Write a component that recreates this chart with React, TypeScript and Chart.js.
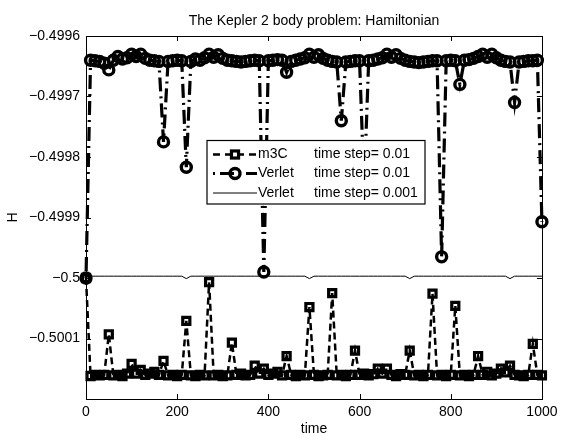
import React, { useEffect, useRef } from 'react';
import { Chart, registerables } from 'chart.js';

Chart.register(...registerables);

const chartTitle = 'The Kepler 2 body problem: Hamiltonian';
const xAxisTitle = 'time';
const yAxisTitle = 'H';

const times = [
  0, 10, 20, 30, 40, 50, 60, 70, 80, 90,
  100, 110, 120, 130, 140, 150, 160, 170, 180, 190,
  200, 210, 220, 230, 240, 250, 260, 270, 280, 290,
  300, 310, 320, 330, 340, 350, 360, 370, 380, 390,
  400, 410, 420, 430, 440, 450, 460, 470, 480, 490,
  500, 510, 520, 530, 540, 550, 560, 570, 580, 590,
  600, 610, 620, 630, 640, 650, 660, 670, 680, 690,
  700, 710, 720, 730, 740, 750, 760, 770, 780, 790,
  800, 810, 820, 830, 840, 850, 860, 870, 880, 890,
  900, 910, 920, 930, 940, 950, 960, 970, 980, 990,
  1000,
];

const m3cValues = [
  -0.5, -0.500162, -0.50016, -0.500161, -0.50016, -0.500093, -0.500161, -0.50016, -0.500162, -0.500158,
  -0.500142, -0.500158, -0.500152, -0.50016, -0.500158, -0.500155, -0.50016, -0.500137, -0.500161, -0.50016,
  -0.500162, -0.50016, -0.500071, -0.500161, -0.500162, -0.50016, -0.500161, -0.500007, -0.500161, -0.50016,
  -0.500162, -0.500161, -0.500107, -0.50016, -0.500158, -0.500161, -0.50016, -0.500145, -0.500158, -0.50015,
  -0.50016, -0.500158, -0.500155, -0.500161, -0.500129, -0.50016, -0.500162, -0.50016, -0.500161, -0.500048,
  -0.50016, -0.500162, -0.500161, -0.50016, -0.500025, -0.500161, -0.50016, -0.500162, -0.50016, -0.50012,
  -0.50016, -0.500158, -0.500161, -0.500159, -0.50015, -0.500158, -0.50015, -0.50016, -0.500162, -0.500159,
  -0.50016, -0.50012, -0.500161, -0.50016, -0.500162, -0.50016, -0.500026, -0.500161, -0.50016, -0.500162,
  -0.50016, -0.500046, -0.500161, -0.50016, -0.500162, -0.50016, -0.500129, -0.50016, -0.500155, -0.500161,
  -0.500158, -0.50015, -0.500156, -0.500145, -0.50016, -0.500161, -0.500162, -0.50016, -0.500109, -0.50016,
  -0.500161,
];

const verletCoarseValues = [
  -0.5, -0.49964, -0.499641, -0.499642, -0.499645, -0.499656, -0.49964, -0.499634, -0.499638, -0.499636,
  -0.49963, -0.499634, -0.49963, -0.499637, -0.49964, -0.499641, -0.499642, -0.499775, -0.499642, -0.499641,
  -0.49964, -0.499641, -0.499817, -0.499642, -0.499638, -0.49964, -0.499636, -0.49963, -0.499635, -0.499631,
  -0.499637, -0.49964, -0.499641, -0.499642, -0.499643, -0.499642, -0.499641, -0.49964, -0.499641, -0.49999,
  -0.499641, -0.49964, -0.499639, -0.49964, -0.49966, -0.499642, -0.49964, -0.499638, -0.499636, -0.49963,
  -0.499635, -0.499631, -0.499637, -0.49964, -0.499642, -0.499643, -0.49974, -0.499643, -0.499642, -0.499641,
  -0.499641, -0.49985, -0.499641, -0.49964, -0.499638, -0.499636, -0.49963, -0.499635, -0.499631, -0.499637,
  -0.49964, -0.499642, -0.499643, -0.499644, -0.499643, -0.499642, -0.499641, -0.499641, -0.499965, -0.499641,
  -0.49964, -0.499641, -0.49968, -0.49964, -0.499639, -0.499637, -0.499634, -0.49963, -0.499635, -0.49963,
  -0.499636, -0.49964, -0.499642, -0.499643, -0.49971, -0.499643, -0.499642, -0.499641, -0.499641, -0.49964,
  -0.499907,
];

const verletFineValues = [
  -0.499998, -0.499997, -0.499997, -0.499997, -0.499997, -0.499997, -0.499997, -0.499997, -0.499997, -0.499997,
  -0.499997, -0.499997, -0.499997, -0.499997, -0.499997, -0.499997, -0.499997, -0.499997, -0.499997, -0.499997,
  -0.499997, -0.499997, -0.500001, -0.499997, -0.499997, -0.499997, -0.499997, -0.499997, -0.499997, -0.499997,
  -0.499997, -0.499997, -0.499997, -0.499997, -0.499997, -0.499997, -0.499997, -0.499997, -0.499997, -0.499997,
  -0.499997, -0.499997, -0.499997, -0.499997, -0.499997, -0.499997, -0.499997, -0.499997, -0.499997, -0.500001,
  -0.499997, -0.499997, -0.499997, -0.499997, -0.499997, -0.499997, -0.499997, -0.499997, -0.499997, -0.499997,
  -0.499997, -0.499997, -0.499997, -0.499997, -0.499997, -0.499997, -0.499997, -0.499997, -0.499997, -0.499997,
  -0.499997, -0.500001, -0.499997, -0.499997, -0.499997, -0.499997, -0.499997, -0.499997, -0.499997, -0.499997,
  -0.499997, -0.499997, -0.499997, -0.499997, -0.499997, -0.499997, -0.499997, -0.499997, -0.499997, -0.499997,
  -0.499997, -0.499997, -0.499997, -0.500001, -0.499997, -0.499997, -0.499997, -0.499997, -0.499997, -0.499997,
  -0.499997,
];

const xTicks = [0, 200, 400, 600, 800, 1000];
const xTickLabels = ['0', '200', '400', '600', '800', '1000'];
const yTicks = [-0.5001, -0.5, -0.4999, -0.4998, -0.4997, -0.4996];
const yTickLabels = ['\u22120.5001', '\u22120.5', '\u22120.4999', '\u22120.4998', '\u22120.4997', '\u22120.4996'];

const legendNames = ['m3C', 'Verlet', 'Verlet'];
const legendSteps = ['time step= 0.01', 'time step= 0.01', 'time step= 0.001'];

const FONT = '"Liberation Sans", Arial, Helvetica, sans-serif';

const RECT_R = 5;
const RECT_BW = 3.2;
const CIRC_R = 5;
const CIRC_BW = 3.4;

const drawMarker = (ctx: CanvasRenderingContext2D, kind: string, x: number, y: number) => {
  ctx.save();
  ctx.setLineDash([]);
  ctx.strokeStyle = '#000';
  if (kind === 'rect') {
    ctx.lineWidth = RECT_BW;
    const s = RECT_R * Math.SQRT1_2;
    ctx.strokeRect(x - s, y - s, 2 * s, 2 * s);
  } else if (kind === 'circle') {
    ctx.lineWidth = CIRC_BW;
    ctx.beginPath();
    ctx.arc(x, y, CIRC_R, 0, Math.PI * 2);
    ctx.stroke();
  }
  ctx.restore();
};

const frameAndExtras = {
  id: 'frameAndExtras',
  beforeDatasetsDraw(chart: any) {
    const { ctx, chartArea } = chart;
    const { left, right, top, bottom } = chartArea;
    const xs = chart.scales.x;
    const ys = chart.scales.y;
    ctx.save();
    ctx.strokeStyle = '#000';
    ctx.lineWidth = 1;
    ctx.setLineDash([]);
    ctx.strokeRect(Math.round(left) + 0.5, Math.round(top) + 0.5, Math.round(right - left), Math.round(bottom - top));
    const tl = 5;
    ctx.beginPath();
    xTicks.forEach((v) => {
      const px = Math.round(xs.getPixelForValue(v)) + 0.5;
      ctx.moveTo(px, bottom);
      ctx.lineTo(px, bottom - tl);
      ctx.moveTo(px, top);
      ctx.lineTo(px, top + tl);
    });
    yTicks.forEach((v) => {
      const py = Math.round(ys.getPixelForValue(v)) + 0.5;
      ctx.moveTo(left, py);
      ctx.lineTo(left + tl, py);
      ctx.moveTo(right, py);
      ctx.lineTo(right - tl, py);
    });
    ctx.stroke();
    ctx.restore();
  },
  afterDraw(chart: any) {
    const { ctx, chartArea } = chart;
    const { left, right } = chartArea;
    ctx.save();
    ctx.fillStyle = '#000';
    ctx.font = `14px ${FONT}`;
    ctx.textAlign = 'center';
    ctx.textBaseline = 'middle';
    ctx.fillText(chartTitle, (left + right) / 2, 21);

    const bx = 207;
    const by = 140.5;
    const bw = 218;
    const bh = 63.5;
    ctx.fillStyle = '#fff';
    ctx.fillRect(bx, by, bw, bh);
    ctx.strokeStyle = '#000';
    ctx.lineWidth = 1.2;
    ctx.strokeRect(bx, by, bw, bh);
    const rows = [154.5, 173.5, 193];
    const sx0 = 213;
    const sx1 = 257;
    const mid = 235;
    ctx.save();
    ctx.lineWidth = 2.5;
    ctx.setLineDash([7, 5]);
    ctx.beginPath();
    ctx.moveTo(sx0, rows[0]);
    ctx.lineTo(sx1, rows[0]);
    ctx.stroke();
    ctx.restore();
    drawMarker(ctx, 'rect', mid, rows[0]);
    ctx.save();
    ctx.lineWidth = 3.2;
    ctx.setLineDash([2, 5, 14, 5]);
    ctx.beginPath();
    ctx.moveTo(sx0, rows[1]);
    ctx.lineTo(sx1, rows[1]);
    ctx.stroke();
    ctx.restore();
    drawMarker(ctx, 'circle', mid, rows[1]);
    ctx.save();
    ctx.lineWidth = 1;
    ctx.setLineDash([]);
    ctx.beginPath();
    ctx.moveTo(sx0, rows[2]);
    ctx.lineTo(sx1, rows[2]);
    ctx.stroke();
    ctx.restore();

    ctx.fillStyle = '#000';
    ctx.font = `14px ${FONT}`;
    ctx.textAlign = 'left';
    ctx.textBaseline = 'middle';
    legendNames.forEach((n, i) => {
      ctx.fillText(n, 258, rows[i]);
      ctx.fillText(legendSteps[i], 314, rows[i]);
    });
    ctx.restore();
  },
};

const toPoints = (ys: number[]) => times.map((t, i) => ({ x: t, y: ys[i] }));

export default function App() {
  const canvasRef = useRef<HTMLCanvasElement | null>(null);

  useEffect(() => {
    const canvas = canvasRef.current;
    if (!canvas) return;
    const chart = new Chart(canvas, {
      type: 'line',
      data: {
        datasets: [
          {
            label: 'm3C time step= 0.01',
            data: toPoints(m3cValues),
            borderColor: '#000',
            borderWidth: 2.5,
            borderDash: [7, 4],
            pointStyle: 'rect',
            pointRadius: RECT_R,
            pointBorderWidth: RECT_BW,
            pointBorderColor: '#000',
            pointBackgroundColor: 'rgba(0,0,0,0)',
            tension: 0,
            clip: false,
            order: 3,
          },
          {
            label: 'Verlet time step= 0.01',
            data: toPoints(verletCoarseValues),
            borderColor: '#000',
            borderWidth: 3.2,
            borderDash: [2, 5, 14, 5],
            pointStyle: 'circle',
            pointRadius: CIRC_R,
            pointBorderWidth: CIRC_BW,
            pointBorderColor: '#000',
            pointBackgroundColor: 'rgba(0,0,0,0)',
            tension: 0,
            clip: false,
            order: 2,
          },
          {
            label: 'Verlet time step= 0.001',
            data: toPoints(verletFineValues),
            borderColor: '#000',
            borderWidth: 1,
            pointRadius: 0,
            tension: 0,
            clip: false,
            order: 1,
          },
        ],
      },
      options: {
        animation: false,
        responsive: false,
        devicePixelRatio: 1,
        layout: { padding: { top: 36, right: 17, bottom: 0, left: 0 } },
        plugins: {
          legend: { display: false },
          tooltip: { enabled: false },
          title: { display: false },
        },
        scales: {
          x: {
            type: 'linear',
            min: 0,
            max: 1000,
            grid: { display: false, drawTicks: false },
            border: { display: false },
            afterBuildTicks: (s: any) => {
              s.ticks = xTicks.map((v) => ({ value: v }));
            },
            afterFit: (s: any) => {
              s.height = 37;
            },
            ticks: {
              color: '#000',
              padding: 4.5,
              maxRotation: 0,
              autoSkip: false,
              font: { family: FONT, size: 14 },
              callback: (_v: any, i: number) => xTickLabels[i],
            },
            title: {
              display: true,
              text: xAxisTitle,
              color: '#000',
              font: { family: FONT, size: 14, lineHeight: 1 },
              padding: { top: 0, bottom: 0 },
            },
          },
          y: {
            type: 'linear',
            min: -0.5002,
            max: -0.4996,
            grid: { display: false, drawTicks: false },
            border: { display: false },
            afterBuildTicks: (s: any) => {
              s.ticks = yTicks.map((v) => ({ value: v }));
            },
            afterFit: (s: any) => {
              s.width = 86;
            },
            ticks: {
              color: '#000',
              padding: 6,
              autoSkip: false,
              font: { family: FONT, size: 14 },
              callback: (_v: any, i: number) => yTickLabels[i],
            },
            title: {
              display: true,
              text: yAxisTitle,
              color: '#000',
              font: { family: FONT, size: 14, lineHeight: 1 },
              padding: { top: 6, bottom: 0 },
            },
          },
        },
      },
      plugins: [frameAndExtras],
    });
    return () => chart.destroy();
  }, []);

  return (
    <div style={{ position: 'absolute', left: 0, top: 0, width: 562, height: 436, background: '#fff' }}>
      <canvas ref={canvasRef} width={562} height={436} style={{ display: 'block', width: 562, height: 436 }} />
    </div>
  );
}
